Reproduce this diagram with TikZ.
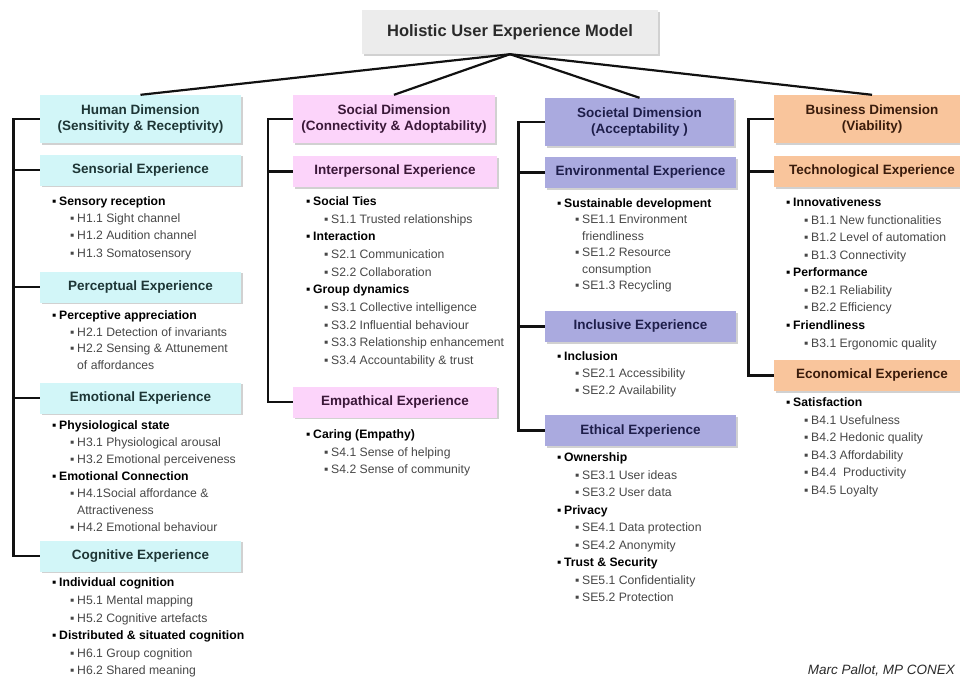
\documentclass[tikz,border=0pt]{standalone}
\usepackage{fontspec}
\setmainfont{Liberation Sans}
\usetikzlibrary{shadows}
\definecolor{titlegrey}{HTML}{ECECEC}
\definecolor{titletxt}{HTML}{2A2A2A}
\definecolor{cyanbox}{HTML}{D2F6F8}
\definecolor{pinkbox}{HTML}{FCD4FA}
\definecolor{lavbox}{HTML}{AAAADF}
\definecolor{peachbox}{HTML}{F9C59C}
\definecolor{cyantxt}{HTML}{1E3636}
\definecolor{pinktxt}{HTML}{3A1838}
\definecolor{lavtxt}{HTML}{1E1E4A}
\definecolor{peachtxt}{HTML}{3A1C0C}
\definecolor{itemgrey}{HTML}{474747}
\definecolor{linecol}{HTML}{111111}
\newcommand\blt{\makebox[7pt][l]{▪}}
\newcommand\colblock[5]{%
  \foreach \lev/\txt [count=\i] in {#5}{%
    \pgfmathsetmacro\yy{#3+(\i-1)*#4}%
    \ifcase\lev\or
      \node[lvone] (#1\i) at (#2,\yy) {\blt\txt};%
    \or
      \node[lvtwo] (#1\i) at (#2+18,\yy) {\blt\txt};%
    \or
      \node[lvtwo] (#1\i) at (#2+25,\yy) {\txt};%
    \fi
  }%
}
\begin{document}
\begin{tikzpicture}[x=1pt,y=-1pt,
  shade/.style={drop shadow={shadow xshift=1.5pt,shadow yshift=-1.5pt,opacity=0.3,fill=black!60}},
  titlebox/.style={shade,fill=titlegrey,text=titletxt,inner sep=0,minimum width=296pt,minimum height=44pt,
    font=\fontsize{16.5}{18}\selectfont\bfseries},
  dimbox/.style={shade,inner sep=0,minimum height=48pt,align=center,
    font=\fontsize{13.5}{15.5}\selectfont\bfseries},
  subbox/.style={shade,inner sep=0,minimum height=31pt,
    font=\fontsize{13.5}{15}\selectfont\bfseries},
  hdimst/.style={dimbox,fill=cyanbox,text=cyantxt,minimum width=201pt},
  sdimst/.style={dimbox,fill=pinkbox,text=pinktxt,minimum width=202pt},
  edimst/.style={dimbox,fill=lavbox,text=lavtxt,minimum width=189pt},
  bdimst/.style={dimbox,fill=peachbox,text=peachtxt,minimum width=196pt},
  hsub/.style={subbox,fill=cyanbox,text=cyantxt,minimum width=201pt},
  ssub/.style={subbox,fill=pinkbox,text=pinktxt,minimum width=204pt},
  esub/.style={subbox,fill=lavbox,text=lavtxt,minimum width=191pt},
  bsub/.style={subbox,fill=peachbox,text=peachtxt,minimum width=196pt},
  lvone/.style={anchor=mid west,inner sep=0,text=black,font=\fontsize{12.2}{14}\selectfont\bfseries},
  lvtwo/.style={anchor=mid west,inner sep=0,text=itemgrey,font=\fontsize{12.2}{14}\selectfont},
  bracket/.style={draw=linecol,line width=2.2pt},
  conn/.style={draw=linecol,line width=2.2pt},
  footer/.style={anchor=mid east,inner sep=0,text=titletxt,font=\fontsize{13.5}{15}\selectfont\itshape}
]
\path[use as bounding box] (0,0) rectangle (960,678);

% title and dimensions
\node[titlebox] (title) at (510,32) {Holistic User Experience Model};
\node[hdimst] (hdim) at (140.5,119) {Human Dimension\\(Sensitivity \& Receptivity)};
\node[sdimst] (sdim) at (394,119) {Social Dimension\\(Connectivity \& Adoptability)};
\node[edimst] (edim) at (639.5,122) {Societal Dimension\\(Acceptability )};
\node[bdimst] (bdim) at (872,119) {Business Dimension\\(Viability)};

\draw[conn] (title.south) -- (hdim.north);
\draw[conn] (title.south) -- (sdim.north);
\draw[conn] (title.south) -- (edim.north);
\draw[conn] (title.south) -- (bdim.north);

% sub boxes
\node[hsub] (hsens) at (140.5,170) {Sensorial Experience};
\node[hsub] (hperc) at (140.5,287) {Perceptual Experience};
\node[hsub] (hemo) at (140.5,398) {Emotional Experience};
\node[hsub] (hcog) at (140.5,556) {Cognitive Experience};

\node[ssub] (sinter) at (395,171.5) {Interpersonal Experience};
\node[ssub] (sempa) at (395,402) {Empathical Experience};

\node[esub] (eenv) at (640.5,172.5) {Environmental Experience};
\node[esub] (eincl) at (640.5,326.5) {Inclusive Experience};
\node[esub] (eeth) at (640.5,430.5) {Ethical Experience};

\node[bsub] (btech) at (872,171.5) {Technological Experience};
\node[bsub] (beco) at (872,375.5) {Economical Experience};

% brackets
\coordinate (hbar) at (13.5,0);
\coordinate (sbar) at (268,0);
\coordinate (ebar) at (518.5,0);
\coordinate (bbar) at (748.5,0);

\draw[bracket] (hdim.west) -| (hbar |- hcog.west) -- (hcog.west);
\draw[bracket] (hbar |- hsens.west) -- (hsens.west);
\draw[bracket] (hbar |- hperc.west) -- (hperc.west);
\draw[bracket] (hbar |- hemo.west) -- (hemo.west);

\draw[bracket] (sdim.west) -| (sbar |- sempa.west) -- (sempa.west);
\draw[bracket] (sbar |- sinter.west) -- (sinter.west);

\draw[bracket] (edim.west) -| (ebar |- eeth.west) -- (eeth.west);
\draw[bracket] (ebar |- eenv.west) -- (eenv.west);
\draw[bracket] (ebar |- eincl.west) -- (eincl.west);

\draw[bracket] (bdim.west) -| (bbar |- beco.west) -- (beco.west);
\draw[bracket] (bbar |- btech.west) -- (btech.west);

% item lists
\colblock{hA}{52}{202.7}{17.3}{1/Sensory reception, 2/H1.1 Sight channel, 2/H1.2 Audition channel, 2/H1.3 Somatosensory}
\colblock{hB}{52}{316.7}{16.8}{1/Perceptive appreciation, 2/H2.1 Detection of invariants, 2/H2.2 Sensing \& Attunement, 3/of affordances}
\colblock{hC}{52}{426.7}{17.05}{1/Physiological state, 2/H3.1 Physiological arousal, 2/H3.2 Emotional perceiveness, 1/Emotional Connection, 2/H4.1Social affordance \&, 3/Attractiveness, 2/H4.2 Emotional behaviour}
\colblock{hD}{52}{584.3}{17.55}{1/Individual cognition, 2/H5.1 Mental mapping, 2/H5.2 Cognitive artefacts, 1/Distributed \& situated cognition, 2/H6.1 Group cognition, 2/H6.2 Shared meaning}

\colblock{sA}{306}{203}{17.65}{1/Social Ties, 2/S1.1 Trusted relationships, 1/Interaction, 2/S2.1 Communication, 2/S2.2 Collaboration, 1/Group dynamics, 2/S3.1 Collective intelligence, 2/S3.2 Influential behaviour, 2/S3.3 Relationship enhancement, 2/S3.4 Accountability \& trust}
\colblock{sB}{306}{436}{17.5}{1/Caring (Empathy), 2/S4.1 Sense of helping, 2/S4.2 Sense of community}

\colblock{eA}{557}{205}{16.35}{1/Sustainable development, 2/SE1.1 Environment, 3/friendliness, 2/SE1.2 Resource, 3/consumption, 2/SE1.3 Recycling}
\colblock{eB}{557}{358}{16.85}{1/Inclusion, 2/SE2.1 Accessibility, 2/SE2.2 Availability}
\colblock{eC}{557}{459}{17.5}{1/Ownership, 2/SE3.1 User ideas, 2/SE3.2 User data, 1/Privacy, 2/SE4.1 Data protection, 2/SE4.2 Anonymity, 1/Trust \& Security, 2/SE5.1 Confidentiality, 2/SE5.2 Protection}

\colblock{bA}{786}{204}{17.55}{1/Innovativeness, 2/B1.1 New functionalities, 2/B1.2 Level of automation, 2/B1.3 Connectivity, 1/Performance, 2/B2.1 Reliability, 2/B2.2 Efficiency, 1/Friendliness, 2/B3.1 Ergonomic quality}
\colblock{bB}{786}{404}{17.5}{1/Satisfaction, 2/B4.1 Usefulness, 2/B4.2 Hedonic quality, 2/B4.3 Affordability, 2/B4.4\ \ Productivity, 2/B4.5 Loyalty}

\node[footer] (credit) at (955,672) {Marc Pallot, MP CONEX};
\end{tikzpicture}
\end{document}
